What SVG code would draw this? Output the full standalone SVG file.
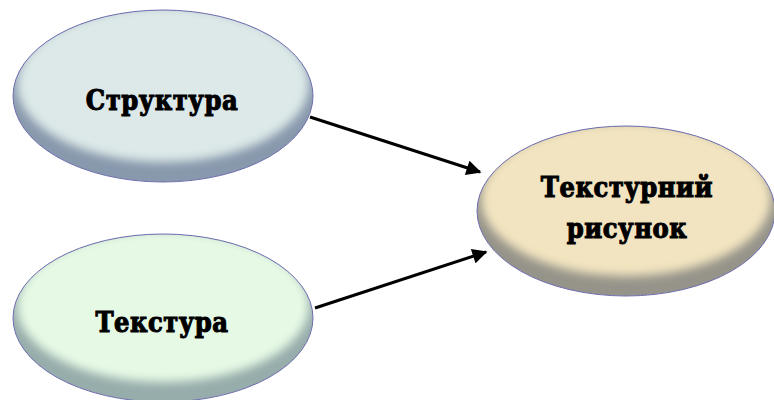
<svg xmlns="http://www.w3.org/2000/svg" width="774" height="400" viewBox="0 0 774 400">
<defs>
<filter id="soft" x="-20%" y="-20%" width="140%" height="140%"><feGaussianBlur stdDeviation="5"/></filter>
<clipPath id="c1"><ellipse cx="163" cy="96" rx="150" ry="86"/></clipPath>
<clipPath id="c2"><ellipse cx="163" cy="318" rx="150" ry="84"/></clipPath>
<clipPath id="c3"><ellipse cx="626" cy="211" rx="149" ry="85"/></clipPath>
<marker id="ah" viewBox="0 0 10 10" refX="9" refY="5" markerWidth="5.5" markerHeight="5" orient="auto" markerUnits="strokeWidth">
<path d="M0,0 L10,5 L0,10 z" fill="#000"/>
</marker>
</defs>
<style>
.outline{fill:none;stroke:#6c6cae;stroke-width:1}
.lbl{font-family:"DejaVu Serif Condensed","DejaVu Serif",serif;font-weight:bold;font-size:27px;fill:#000;stroke:#000;stroke-width:1;text-anchor:middle;letter-spacing:0.5px}
.conn{stroke:#000;stroke-width:3;fill:none;marker-end:url(#ah)}
</style>
<g id="connectors">
<line class="conn" x1="310" y1="117" x2="480" y2="172"/>
<line class="conn" x1="315" y1="308" x2="486" y2="252"/>
</g>
<g id="node-struktura">
<g clip-path="url(#c1)">
<ellipse cx="163" cy="96" rx="150" ry="86" fill="#8999ad"/>
<ellipse cx="163" cy="84" rx="146" ry="78" fill="#dde9e8" filter="url(#soft)"/>
</g>
<ellipse class="outline" cx="163" cy="96" rx="150" ry="86"/>
<text class="lbl" x="162" y="110">Структура</text>
</g>
<g id="node-tekstura">
<g clip-path="url(#c2)">
<ellipse cx="163" cy="318" rx="150" ry="84" fill="#97adab"/>
<ellipse cx="163" cy="306" rx="146" ry="76" fill="#e6f9e5" filter="url(#soft)"/>
</g>
<ellipse class="outline" cx="163" cy="318" rx="150" ry="84"/>
<text class="lbl" x="162" y="332">Текстура</text>
</g>
<g id="node-teksturnyi">
<g clip-path="url(#c3)">
<ellipse cx="626" cy="211" rx="149" ry="85" fill="#96948a"/>
<ellipse cx="626" cy="199" rx="145" ry="77" fill="#f2e4c0" filter="url(#soft)"/>
</g>
<ellipse class="outline" cx="626" cy="211" rx="149" ry="85"/>
<text class="lbl" x="627" y="197">Текстурний</text>
<text class="lbl" x="627" y="238">рисунок</text>
</g>
</svg>
